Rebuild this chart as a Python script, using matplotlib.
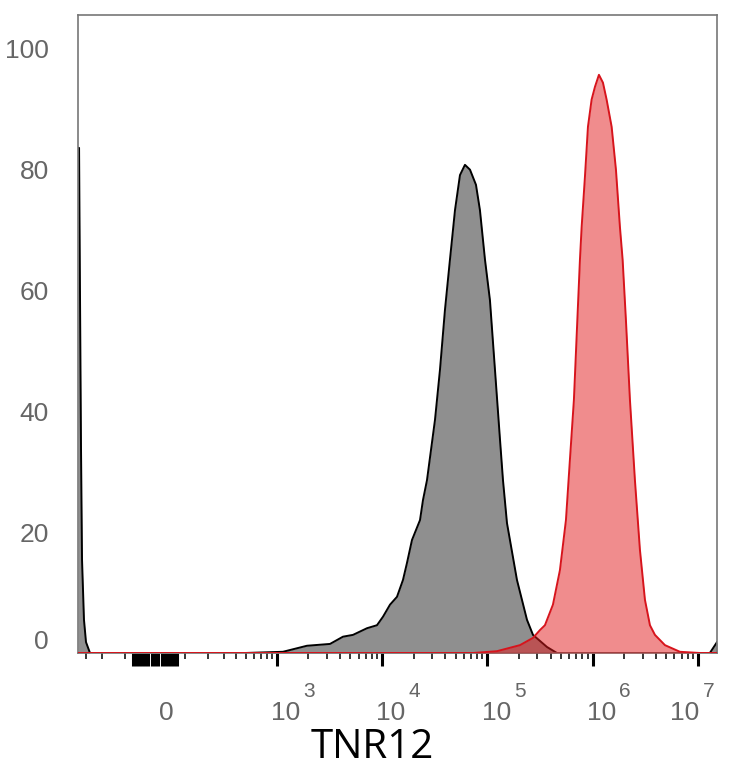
import numpy as np
import matplotlib
matplotlib.use("Agg")
import matplotlib.pyplot as plt

# fluorescence values (x) and event counts (y)
gray_x = [-364, -355, -347, -339, -331, -316, -301, -273, 491, 1144, 1939, 3212,
          4266, 5312, 7210, 8974, 10230, 11930, 13900, 15850, 17290, 19290, 22990,
          24530, 26780, 31910, 35590, 39680, 44250, 49410, 55090, 61430, 68570,
          78160, 85260, 95200, 106100, 118400, 132200, 141100, 154000, 191500,
          238400, 271900, 368900, 458900, 1.30e7, 1.52e7]
gray_y = [83.6, 83.6, 58.4, 33.6, 15.4, 5.5, 1.8, 0, 0, 0.2, 1.2, 1.5,
          2.7, 3.0, 4.1, 4.6, 6.0, 8.0, 9.3, 12.1, 14.9, 18.7, 22.0,
          25.3, 28.6, 38.6, 46.9, 56.8, 65.1, 73.3, 79.1, 80.8, 80.0,
          77.5, 73.3, 65.1, 58.4, 46.9, 35.3, 28.6, 21.5, 12.1,
          5.5, 3.0, 1.0, 0, 0, 1.8]

red_x = [-364, 73150, 123700, 204500, 271900, 316900, 353200, 420600, 490000,
         559000, 609800, 665300, 710700, 759200, 787900, 846700, 904500, 979800,
         1054000, 1149800, 1255600, 1360200, 1518300, 1668100, 1820000, 1930600,
         2074800, 2265200, 2526300, 2817500, 3145100, 3508400, 3913000, 4870600,
         6757800, 10480000, 1.52e7]
red_y = [0, 0, 0.3, 1.3, 2.5, 3.8, 4.6, 8.0, 13.7,
         22.0, 32.0, 41.9, 53.5, 65.1, 70.5, 78.8, 87.1, 91.6,
         93.7, 95.7, 94.4, 91.6, 87.1, 80.0, 70.5, 65.1,
         55.1, 41.9, 28.6, 17.1, 8.8, 4.6, 3.0, 1.3,
         0.2, 0, 0]

y_ticks = [0, 20, 40, 60, 80, 100]
decades = [1e3, 1e4, 1e5, 1e6, 1e7]
exponents = ["3", "4", "5", "6", "7"]
x_title = "TNR12"

W = 140.0  # width of the linear part of the biexponential-like scale

def fwd(x):
    return np.arcsinh(np.asarray(x, dtype=float) / W)

def inv(y):
    return W * np.sinh(np.asarray(y, dtype=float))

plt.rcParams['font.family'] = ['Liberation Sans', 'DejaVu Sans']

fig = plt.figure(figsize=(7.34, 7.68), dpi=100)
ax = fig.add_axes([78 / 734, 115 / 768, 639 / 734, 638 / 768])
ax.set_xscale('function', functions=(fwd, inv))
ax.set_xlim(-364, 1.52e7)
ax.set_ylim(0, 105.6)

ax.fill_between(gray_x, gray_y, color='#8f8f8f', lw=0, zorder=1)
ax.plot(gray_x, gray_y, color='black', lw=1.4, zorder=2)
ax.fill_between(red_x, red_y, color='#e31a1c', alpha=0.5, lw=0, zorder=3)
ax.plot(red_x, red_y, color='#d7141c', lw=1.4, zorder=4)

for s in ax.spines.values():
    s.set_color('#777777')
    s.set_linewidth(1.2)

# x ticks: dense cluster round zero, decades, log minor ticks
near_zero = [v for v in range(-70, 80, 10)]
major = near_zero + decades
ax.set_xticks(major)
ax.set_xticklabels([''] * len(major))
minor = [-300, -200, -100] + [k * 100 for k in range(1, 10)]
for d in decades[:-1]:
    minor += [k * d for k in range(2, 10)]
ax.set_xticks(minor, minor=True)
ax.tick_params(axis='x', which='major', direction='out', length=9, width=2.2,
               color='black')
ax.tick_params(axis='x', which='minor', direction='out', length=4.5, width=1.1,
               color='black')

# x labels in the FlowJo style: base and exponent drawn apart
lab = dict(fontsize=19, color='#666666', ha='center', va='center',
           xycoords=('data', 'axes fraction'), textcoords='offset points',
           annotation_clip=False)
ax.annotate('0', xy=(0, 0), xytext=(8, -43), **lab)
for i, (d, e) in enumerate(zip(decades, exponents)):
    dx = -9.4 if i == len(decades) - 1 else 6.5
    ax.annotate('10', xy=(d, 0), xytext=(dx, -43), **lab)
    ax.annotate(e, xy=(d, 0), xytext=(dx + 17, -28),
                **{**lab, 'fontsize': 15})

# y labels
ax.set_yticks(y_ticks)
ax.set_yticklabels([''] + [str(v) for v in y_ticks[1:]])
ax.tick_params(axis='y', length=0, pad=21, labelsize=19, labelcolor='#666666')
ax.annotate('0', xy=(0, y_ticks[0]), xycoords=('axes fraction', 'data'),
            xytext=(-21, 8), textcoords='offset points', ha='right',
            va='center', fontsize=19, color='#666666', annotation_clip=False)

ax.set_xlabel(x_title, fontsize=29, family=['Open Sans', 'DejaVu Sans'],
              color='black')
ax.xaxis.set_label_coords((372 - 78) / 639, -0.1646)
ax.xaxis.label.set_va('baseline')

fig.savefig('out.png', dpi=100)
